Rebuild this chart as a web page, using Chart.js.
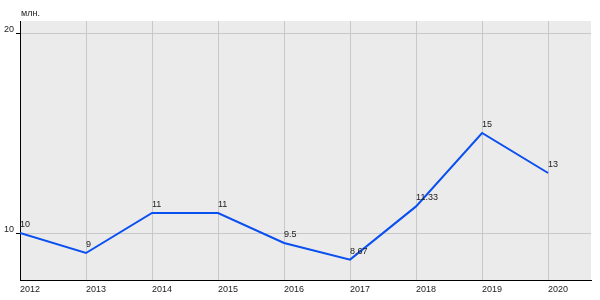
<!DOCTYPE html>
<html>

<head>
    <title>млн.</title>
    <script src="https://cdn.jsdelivr.net/npm/chart.js"></script>
    <style>
        body {
            margin: 0;
            background: white;
        }

        .chart-container {
            width: 600px;
            height: 300px;
        }
    </style>
</head>

<body>
    <div class="chart-container">
        <canvas id="lineChart"></canvas>
    </div>

    <script>
        const years = [2012, 2013, 2014, 2015, 2016, 2017, 2018, 2019, 2020];
        const values = [10, 9, 11, 11, 9.5, 8.67, 11.33, 15, 13];
        const valueLabels = ['10', '9', '11', '11', '9.5', '8.67', '11.33', '15', '13'];
        const yTicks = [10, 20];
        const unitLabel = 'млн.';

        const fontName = '"Liberation Sans", Arial, sans-serif';

        // grey plot background + unit label + value labels
        const decorations = {
            id: 'decorations',
            beforeDraw(chart) {
                const { ctx, chartArea } = chart;
                ctx.save();
                ctx.fillStyle = '#ebebeb';
                ctx.fillRect(chartArea.left, chartArea.top, chartArea.right - chartArea.left, chartArea.bottom - chartArea.top);
                ctx.restore();
            },
            afterDatasetsDraw(chart) {
                const { ctx, chartArea } = chart;
                const meta = chart.getDatasetMeta(0);
                ctx.save();
                ctx.font = '9px ' + fontName;
                ctx.fillStyle = '#222';
                ctx.textAlign = 'left';
                ctx.textBaseline = 'alphabetic';
                meta.data.forEach((pt, i) => {
                    ctx.fillText(valueLabels[i], pt.x, pt.y - 6);
                });
                ctx.fillText(unitLabel, chartArea.left + 1, 16);
                ctx.restore();
            }
        };

        new Chart(document.getElementById('lineChart'), {
            type: 'line',
            data: {
                datasets: [{
                    data: years.map((y, i) => ({ x: y, y: values[i] })),
                    borderColor: '#0a4ff0',
                    borderWidth: 2,
                    pointRadius: 0,
                    tension: 0,
                    fill: false
                }]
            },
            options: {
                responsive: true,
                maintainAspectRatio: false,
                animation: false,
                layout: { padding: { top: 21, right: 9, left: 0, bottom: 0 } },
                plugins: {
                    legend: { display: false },
                    tooltip: { enabled: false }
                },
                scales: {
                    x: {
                        type: 'linear',
                        min: 2012,
                        max: 2020.65,
                        afterBuildTicks: s => { s.ticks = years.map(v => ({ value: v })); },
                        afterFit: s => { s.height = 20; },
                        grid: { color: '#c8c8c8', drawTicks: false },
                        border: { color: '#000', width: 1 },
                        ticks: {
                            align: 'start',
                            padding: 4,
                            color: '#222',
                            font: { family: fontName, size: 9 },
                            callback: v => String(v)
                        }
                    },
                    y: {
                        min: 7.65,
                        max: 20.6,
                        afterBuildTicks: s => { s.ticks = yTicks.map(v => ({ value: v })); },
                        afterFit: s => { s.width = 20; },
                        grid: { color: '#c8c8c8', tickColor: '#000', tickLength: 4 },
                        border: { color: '#000', width: 1 },
                        ticks: {
                            padding: 2,
                            labelOffset: -3,
                            color: '#222',
                            font: { family: fontName, size: 9 }
                        }
                    }
                }
            },
            plugins: [decorations]
        });
    </script>
</body>

</html>
